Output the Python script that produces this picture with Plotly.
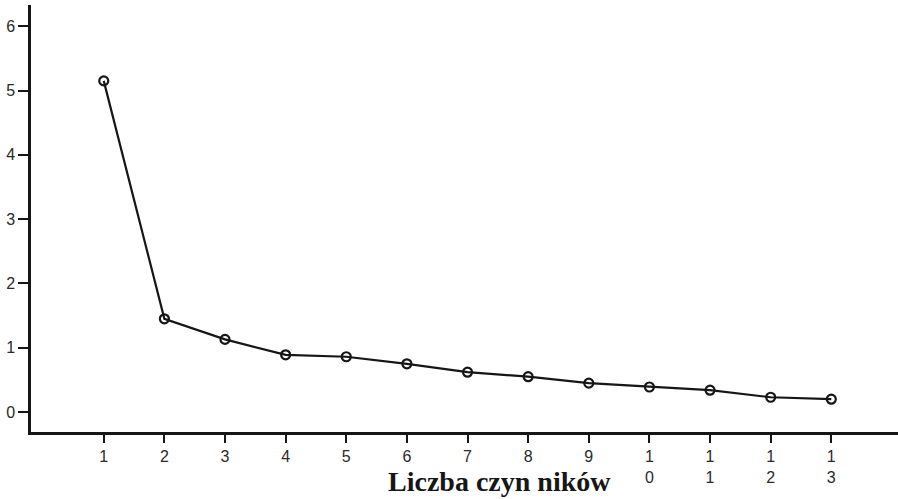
import plotly.graph_objects as go

factors = list(range(1, 14))
eigenvalues = [5.15, 1.45, 1.13, 0.89, 0.86, 0.75, 0.62, 0.55, 0.45, 0.39, 0.34, 0.23, 0.20]
x_tick_labels = ["1", "2", "3", "4", "5", "6", "7", "8", "9", "1<br>0", "1<br>1", "1<br>2", "1<br>3"]
y_ticks = [0, 1, 2, 3, 4, 5, 6]
x_title = "Liczba czyn ników"

fig = go.Figure()
fig.add_trace(go.Scatter(
    x=factors, y=eigenvalues, mode="lines+markers",
    line=dict(color="#161616", width=2.2),
    marker=dict(symbol="circle-open", size=9, color="#161616", line=dict(width=2.2, color="#161616")),
    showlegend=False, cliponaxis=False, hoverinfo="skip",
))

fig.update_layout(
    width=898, height=499,
    margin=dict(l=31, r=0, t=5, b=67),
    paper_bgcolor="white", plot_bgcolor="white",
    font=dict(family="Liberation Sans, Arial, sans-serif", size=16, color="#2a2a2a"),
    xaxis=dict(
        range=[-0.2, 14.1], tickmode="array", tickvals=factors, ticktext=x_tick_labels,
        showline=True, linecolor="#161616", linewidth=2.5, ticks="outside", ticklen=8,
        tickwidth=2, tickcolor="#161616", showgrid=False, zeroline=False, automargin=False,
        tickfont=dict(size=16, color="#2a2a2a"),
    ),
    yaxis=dict(
        range=[-0.31, 6.33], tickmode="array", tickvals=y_ticks,
        showline=True, linecolor="#161616", linewidth=2.5, ticks="outside", ticklen=10,
        tickwidth=2, tickcolor="#161616", showgrid=False, zeroline=False, automargin=False,
        tickfont=dict(size=16, color="#2a2a2a"),
    ),
    annotations=[dict(
        text="<b>" + x_title + "</b>", xref="paper", yref="paper",
        x=(499 - 31) / 867, y=-(482 - 432) / 427, xanchor="center", yanchor="middle",
        showarrow=False, font=dict(family="Liberation Serif, Times New Roman, serif", size=28, color="#161616"),
    )],
)

fig.write_html(
    "out.html",
    config={"displayModeBar": False},
    post_script="document.body.style.margin='0';document.body.style.padding='0';",
)
